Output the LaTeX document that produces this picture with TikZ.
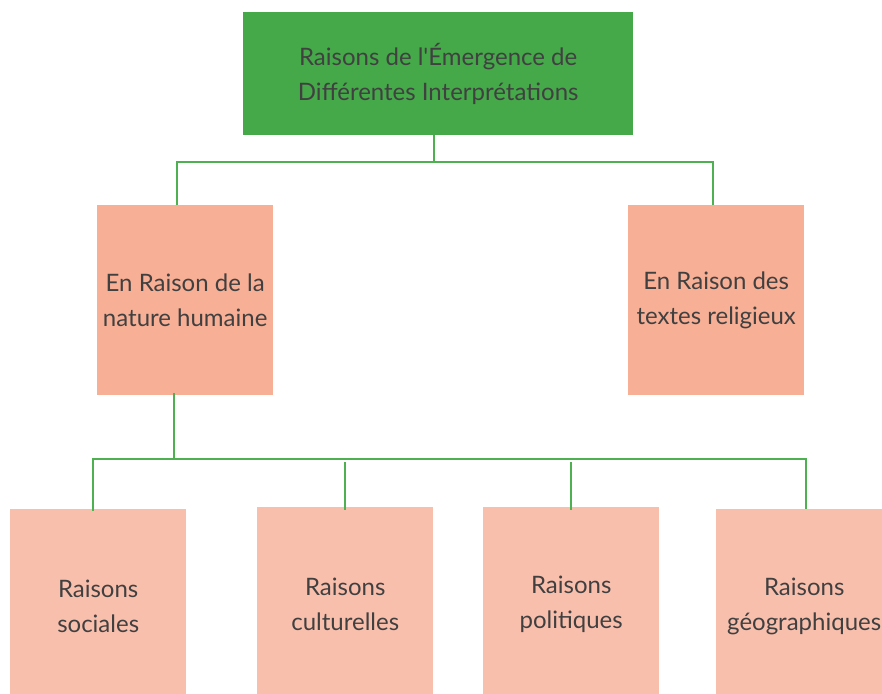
\documentclass[tikz,border=0pt]{standalone}
\usepackage{fontspec}
\setmainfont{Lato}
\definecolor{topgreen}{HTML}{45A94A}
\definecolor{midsalmon}{HTML}{F7AF95}
\definecolor{lowsalmon}{HTML}{F9BFAD}
\definecolor{txtgray}{HTML}{404040}
\definecolor{lineg}{HTML}{4DB051}
\tikzset{
  box/.style={draw=none, inner sep=0pt, anchor=north west, align=center, text=txtgray, font=\fontsize{24}{35.5}\selectfont},
  topbox/.style={box, fill=topgreen, minimum width=390pt, minimum height=123pt},
  midbox/.style={box, fill=midsalmon, minimum width=176pt, minimum height=190pt},
  lowbox/.style={box, fill=lowsalmon, minimum width=176pt, minimum height=194pt},
  conn/.style={draw=lineg, line width=1.6pt}
}
\begin{document}
\begin{tikzpicture}[x=1pt,y=-1pt]
\useasboundingbox (0,0) rectangle (882,693);
\node[topbox] (top) at (243,12) {Raisons de l\textquotesingle Émergence de\\Différentes Interprétations};
\node[midbox] (midL) at (97,205) {En Raison de la\\nature humaine};
\node[midbox] (midR) at (628,205) {En Raison des\\textes religieux};
\node[lowbox] (b1) at (10,509) {Raisons\\sociales};
\node[lowbox] (b2) at (257,507) {Raisons\\culturelles};
\node[lowbox] (b3) at (483,507) {Raisons\\politiques};
\node[lowbox] (b4) at (716,509) {Raisons\\géographiques};
% first level connectors
\coordinate (h1) at (434,162);
\draw[conn] (top.south -| h1) -- (h1);
\draw[conn] (midL.north -| 177,0) |- (h1);
\draw[conn] (midR.north -| 713,0) |- (h1);
% second level connectors
\coordinate (h2) at (174,459);
\draw[conn] ([yshift=2pt]midL.south -| h2) -- (h2);
\draw[conn] ([yshift=-2pt]b1.north -| 93,0) |- (h2);
\draw[conn] (b4.north -| 806,0) |- (h2);
\coordinate (s2) at (345,462);
\coordinate (s3) at (571,462);
\draw[conn] (s2) -- ([yshift=-3pt]b2.north -| s2);
\draw[conn] (s3) -- ([yshift=-3pt]b3.north -| s3);
\end{tikzpicture}
\end{document}
